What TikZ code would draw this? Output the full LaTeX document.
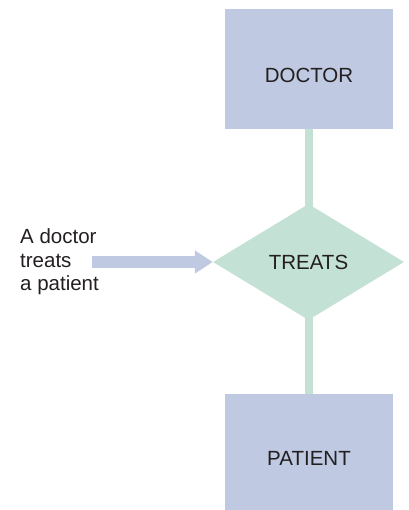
\documentclass[tikz,border=0pt]{standalone}
\usepackage{fontspec}
\setmainfont{Liberation Sans}
\usetikzlibrary{shapes.geometric,arrows.meta,backgrounds}
\definecolor{boxblue}{RGB}{191,202,226}
\definecolor{dgreen}{RGB}{196,225,213}
\definecolor{ink}{RGB}{35,31,32}
\begin{document}
\begin{tikzpicture}[x=1pt,y=1pt,
  entity/.style={rectangle, fill=boxblue, draw=none, minimum width=168pt, inner sep=0pt,
    text height=27pt, text depth=0pt, text=ink, font=\fontsize{20.5}{23.4}\selectfont},
  relation/.style={diamond, fill=dgreen, draw=none, minimum width=191pt, minimum height=116pt,
    inner sep=0pt, text=ink, font=\fontsize{20.5}{23.4}\selectfont},
  link/.style={dgreen, line width=7.5pt},
  feed/.style={boxblue, line width=12pt, -{Triangle[width=22pt,length=18pt]}}
]
\useasboundingbox (0,0) rectangle (408,510);
\node[entity, minimum height=120pt] (doctor) at (309,441) {DOCTOR};
\node[entity, minimum height=116pt, text height=28pt] (patient) at (309,58) {PATIENT};
\node[relation] (treats) at (308.5,248) {TREATS};
\node[anchor=base west, align=left, inner sep=0pt, text=ink,
  font=\fontsize{20.5}{23.4}\selectfont] (desc) at (20,219.5) {A doctor\\treats\\a patient};
\coordinate (feedstart) at (92,248);
\begin{pgfonlayer}{background}
\draw[link] (doctor.south) -- (doctor.south |- treats.center);
\draw[link] (doctor.south |- treats.center) -- (patient.north);
\end{pgfonlayer}
\draw[feed] (feedstart) -- (treats.west);
\end{tikzpicture}
\end{document}
